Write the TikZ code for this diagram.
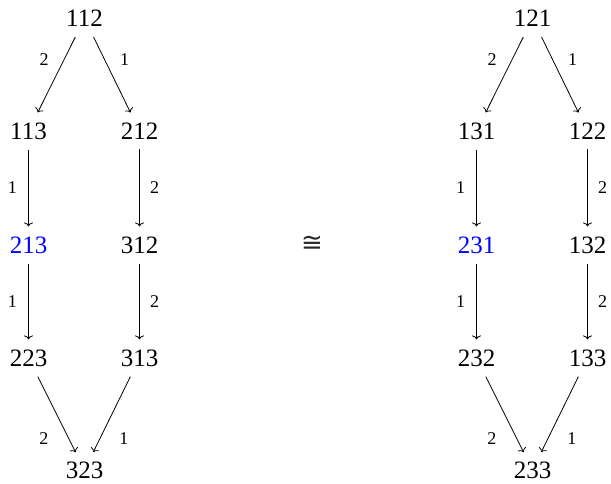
\documentclass[tikz,border=0pt]{standalone}
\usepackage{fontspec}
\setmainfont{Liberation Serif}
\newfontfamily\isofont{DejaVu Sans}
\usetikzlibrary{arrows.meta}
\begin{document}
\begin{tikzpicture}[x=1pt,y=-1pt,
  num/.style={font=\fontsize{25}{28}\selectfont, inner xsep=2pt, inner ysep=10pt},
  bot/.style={num, inner ysep=2pt},
  lbl/.style={font=\fontsize{18}{21}\selectfont, inner sep=0pt},
  arr/.style={-{To[length=4pt,width=9pt]}, line width=0.8pt},
  tobot/.style={arr, shorten >=8pt}]
\useasboundingbox (0,0) rectangle (611,483);
% left diagram
\node[num] (a0) at (84.5,18.5) {112};
\node[num] (a1) at (28.5,131) {113};
\node[num] (a2) at (139.5,131) {212};
\node[num, text=blue] (a3) at (28.5,245) {213};
\node[num] (a4) at (139.5,245) {312};
\node[num] (a5) at (28.5,358) {223};
\node[num] (a6) at (139.5,358) {313};
\node[bot] (a7) at (84.5,470) {323};
\draw[arr] (a0) -- node[lbl, pos=0.3, xshift=-20pt] {2} (a1);
\draw[arr] (a0) -- node[lbl, pos=0.3, xshift=20pt] {1} (a2);
\draw[arr] (a1) -- node[lbl, pos=0.5, xshift=-16pt] {1} (a3);
\draw[arr] (a2) -- node[lbl, pos=0.5, xshift=15pt] {2} (a4);
\draw[arr] (a3) -- node[lbl, pos=0.5, xshift=-16pt] {1} (a5);
\draw[arr] (a4) -- node[lbl, pos=0.5, xshift=15pt] {2} (a6);
\draw[tobot] (a5) -- node[lbl, pos=0.75, xshift=-25pt] {2} (a7);
\draw[tobot] (a6) -- node[lbl, pos=0.75, xshift=24pt] {1} (a7);
% iso
\node[font=\isofont\fontsize{26}{30}\selectfont, text=black!85] (iso) at (312,244) {≅};
% right diagram
\node[num] (b0) at (532.5,18.5) {121};
\node[num] (b1) at (476.5,131) {131};
\node[num] (b2) at (587.5,131) {122};
\node[num, text=blue] (b3) at (476.5,245) {231};
\node[num] (b4) at (587.5,245) {132};
\node[num] (b5) at (476.5,358) {232};
\node[num] (b6) at (587.5,358) {133};
\node[bot] (b7) at (532.5,470) {233};
\draw[arr] (b0) -- node[lbl, pos=0.3, xshift=-20pt] {2} (b1);
\draw[arr] (b0) -- node[lbl, pos=0.3, xshift=20pt] {1} (b2);
\draw[arr] (b1) -- node[lbl, pos=0.5, xshift=-16pt] {1} (b3);
\draw[arr] (b2) -- node[lbl, pos=0.5, xshift=15pt] {2} (b4);
\draw[arr] (b3) -- node[lbl, pos=0.5, xshift=-16pt] {1} (b5);
\draw[arr] (b4) -- node[lbl, pos=0.5, xshift=15pt] {2} (b6);
\draw[tobot] (b5) -- node[lbl, pos=0.75, xshift=-25pt] {2} (b7);
\draw[tobot] (b6) -- node[lbl, pos=0.75, xshift=24pt] {1} (b7);
\end{tikzpicture}
\end{document}
